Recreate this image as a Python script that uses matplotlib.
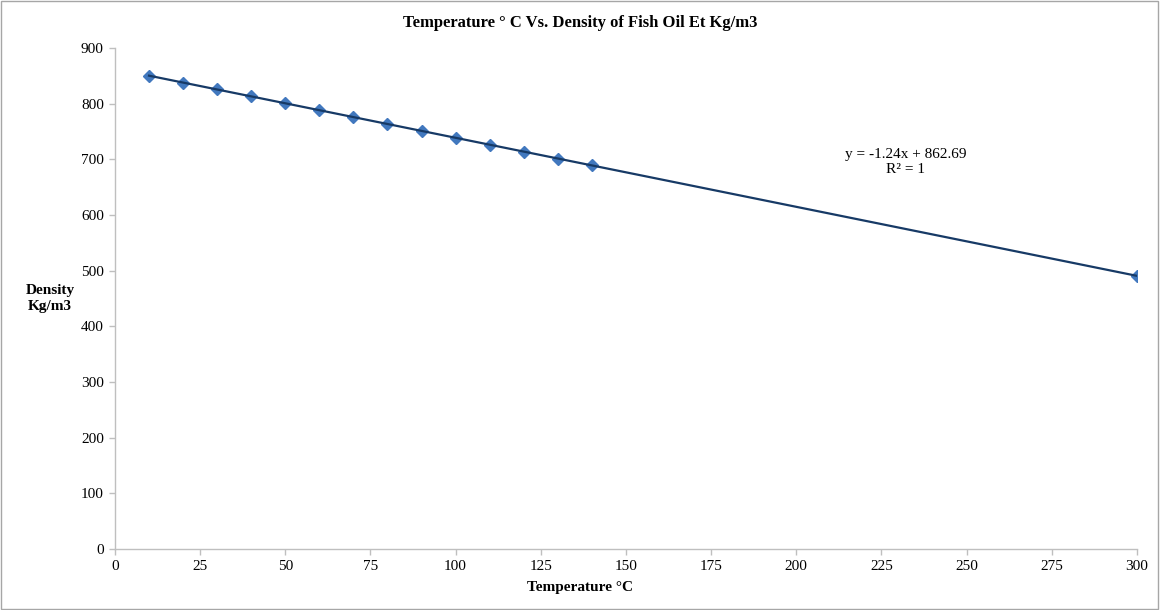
import numpy as np
import matplotlib
matplotlib.use("Agg")
import matplotlib.pyplot as plt
from matplotlib.patches import Rectangle

temperature = [10, 20, 30, 40, 50, 60, 70, 80, 90, 100, 110, 120, 130, 140, 300]
density = [850.3, 837.9, 825.5, 813.1, 800.7, 788.3, 775.9, 763.5, 751.1,
           738.7, 726.3, 713.9, 701.5, 689.1, 490.7]
x_ticks = [0, 25, 50, 75, 100, 125, 150, 175, 200, 225, 250, 275, 300]
y_ticks = [0, 100, 200, 300, 400, 500, 600, 700, 800, 900]

plt.rcParams['font.family'] = ['Liberation Serif', 'DejaVu Serif']

fig = plt.figure(figsize=(11.6, 6.1), dpi=100)
ax = fig.add_axes([0.0991, 0.1, 0.8810, 0.8213])

ax.plot(temperature, density, linestyle='none', marker='D', markersize=6,
        color='#4178BE', markeredgecolor='#4178BE', zorder=3)

coef = np.polyfit(temperature, density, 1)
xs = np.array([min(temperature), max(temperature)])
ax.plot(xs, np.polyval(coef, xs), color='#173A66', linewidth=1.6, zorder=4)

ax.set_xlim(0, 300)
ax.set_ylim(0, 900)
ax.set_xticks(x_ticks)
ax.set_yticks(y_ticks)
ax.tick_params(axis='both', labelsize=11, color='#BFBFBF', length=4, width=1,
               direction='out', pad=4)
for s in ['top', 'right']:
    ax.spines[s].set_visible(False)
for s in ['left', 'bottom']:
    ax.spines[s].set_color('#BFBFBF')
    ax.spines[s].set_linewidth(1)

ax.text(232, 695, 'y = -1.24x + 862.69\nR² = 1', ha='center', va='center',
        fontsize=11, linespacing=1.15)

fig.text(0.5, 0.962, 'Temperature ° C Vs. Density of Fish Oil Et Kg/m3',
         ha='center', va='center', fontsize=12, fontweight='bold')
fig.text(0.5, 0.037, 'Temperature °C', ha='center', va='center',
         fontsize=11, fontweight='bold')
fig.text(0.043, 0.51, 'Density\nKg/m3', ha='center', va='center',
         fontsize=11, fontweight='bold', linespacing=1.3)

fig.patches.append(Rectangle((0.001, 0.002), 0.997, 0.996, transform=fig.transFigure,
                             fill=False, edgecolor='#A6A6A6', linewidth=1))

fig.savefig('out.png', dpi=100)
